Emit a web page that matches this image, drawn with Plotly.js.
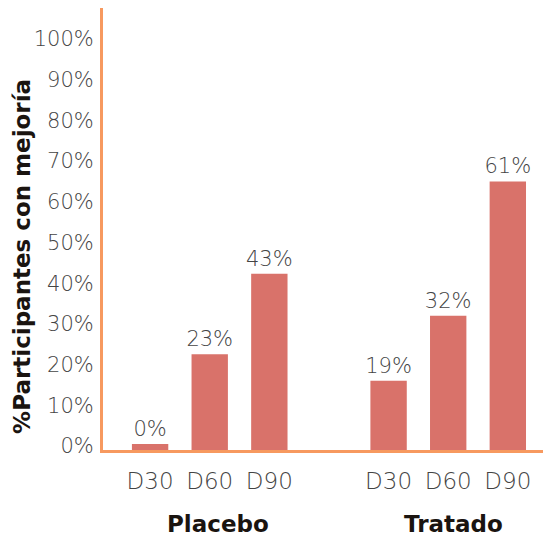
<!DOCTYPE html>
<html>
<head>
<meta charset="utf-8">
<script src="https://cdn.plot.ly/plotly-3.0.1.min.js"></script>
<style>html,body{margin:0;padding:0;background:#fff;}#chart{width:543px;height:539px;}</style>
</head>
<body>
<div id="chart"></div>
<script>
const groups = ["Placebo", "Tratado"];
const days = ["D30", "D60", "D90"];
const barKeys = ["Placebo D30", "Placebo D60", "Placebo D90", "Tratado D30", "Tratado D60", "Tratado D90"];
const barHeights = [1.5, 23.5, 43.3, 17, 33, 66];
const barLabels = ["0%", "23%", "43%", "19%", "32%", "61%"];
const yTickVals = [0, 10, 20, 30, 40, 50, 60, 70, 80, 90, 100];
const yTickText = ["0%", "10%", "20%", "30%", "40%", "50%", "60%", "70%", "80%", "90%", "100%"];
const yTitle = "%Participantes con mejoría";

const spacer = " ";
const categoryOrder = barKeys.slice(0, 3).concat([spacer], barKeys.slice(3));
const tickText = barKeys.map(k => k.split(" ")[1]);

const orange = "#f7995f";
const barColor = "#d9726a";
const textColor = "#444444";
const fam = "DejaVu Sans, sans-serif";

const trace = {
  type: "bar",
  x: barKeys,
  y: barHeights,
  text: barLabels,
  textposition: "outside",
  constraintext: "none",
  textfont: {family: fam, size: 21, color: textColor, weight: 300},
  cliponaxis: false,
  marker: {color: barColor},
  hoverinfo: "skip"
};

const layout = {
  width: 543, height: 539,
  margin: {l: 103, r: 0, t: 8, b: 89},
  paper_bgcolor: "#ffffff", plot_bgcolor: "#ffffff",
  showlegend: false,
  bargap: 0.39,
  xaxis: {
    type: "category",
    categoryorder: "array",
    categoryarray: categoryOrder,
    range: [-0.79, 6.59],
    tickvals: barKeys,
    ticktext: tickText,
    tickfont: {family: fam, size: 23, color: textColor, weight: 300},
    showline: true, linecolor: orange, linewidth: 3,
    ticks: "", showgrid: false, zeroline: false,
    ticklabelstandoff: 8
  },
  yaxis: {
    range: [0, 108.6],
    tickvals: yTickVals,
    ticktext: yTickText,
    tickfont: {family: fam, size: 21, color: textColor, weight: 300},
    showline: true, linecolor: orange, linewidth: 3,
    ticks: "", showgrid: false, zeroline: false,
    ticklabelstandoff: 2,
    ticklabelshift: -4
  },
  annotations: [
    {text: "<b>" + groups[0] + "</b>", x: barKeys[1], xref: "x", y: -0.167, yref: "paper",
     xanchor: "center", yanchor: "middle", xshift: 8, showarrow: false,
     font: {family: fam, size: 23, color: "#1a1410"}},
    {text: "<b>" + groups[1] + "</b>", x: barKeys[4], xref: "x", y: -0.167, yref: "paper",
     xanchor: "center", yanchor: "middle", xshift: 5, showarrow: false,
     font: {family: fam, size: 23, color: "#1a1410"}},
    {text: "<b>" + yTitle + "</b>", x: -0.184, xref: "paper", y: 0.437, yref: "paper",
     textangle: -90, xanchor: "center", yanchor: "middle", showarrow: false,
     font: {family: fam, size: 23, color: "#1a1410"}}
  ]
};

Plotly.newPlot("chart", [trace], layout, {displayModeBar: false, staticPlot: true});
</script>
</body>
</html>
